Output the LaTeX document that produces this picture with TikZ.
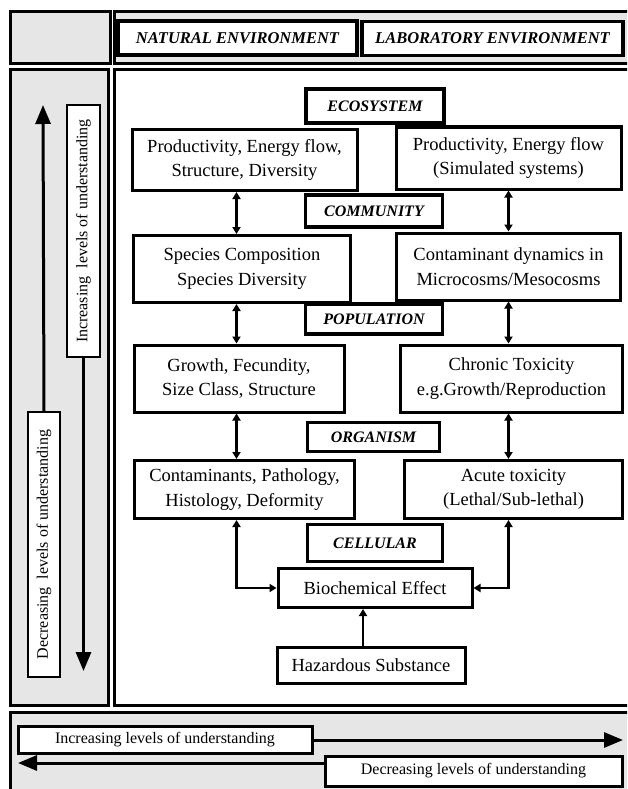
\documentclass[tikz,border=0pt]{standalone}
\usepackage{fontspec}
\setmainfont{Liberation Serif}
\usetikzlibrary{arrows.meta}
\definecolor{panelgray}{HTML}{E6E6E6}
\begin{document}
\begin{tikzpicture}[x=1pt,y=-1pt,
  panel/.style={draw=black,line width=3pt,fill=panelgray},
  whitepanel/.style={draw=black,line width=3pt,fill=white},
  envbox/.style={draw=black,line width=3.5pt,fill=white,inner sep=0pt,
    font=\fontsize{16.5}{18}\selectfont\bfseries\itshape},
  lvl/.style={draw=black,line width=3.5pt,fill=white,inner sep=0pt,
    font=\fontsize{16}{18}\selectfont\bfseries\itshape},
  box/.style={draw=black,line width=3pt,fill=white,inner sep=0pt,align=center,
    font=\fontsize{18.5}{24.5}\selectfont},
  sidebox/.style={draw=black,line width=2pt,fill=white,inner sep=0pt,
    font=\fontsize{16}{18}\selectfont},
  dbl/.style={line width=2.5pt,{Triangle[length=7pt,width=8pt]}-{Triangle[length=7pt,width=8pt]}},
  one/.style={line width=2.5pt,-{Triangle[length=7pt,width=8pt]}},
  big/.style={line width=3pt,-{Triangle[length=19pt,width=15pt]}}
]
\useasboundingbox (0,0) rectangle (627,789);
\clip (0,0) rectangle (627,789);
\fill[white] (0,0) rectangle (627,789);

% panels
\draw[panel] (10,12) rectangle (110,64);
\draw[panel] (114,12) rectangle (640,64);
\draw[panel] (10,70) rectangle (108,705);
\draw[whitepanel] (114,70) rectangle (640,705);
\draw[panel] (10,712) rectangle (640,800);

% environment headers
\node[envbox,minimum width=239pt,minimum height=34pt] (nat) at (237.5,38) {NATURAL ENVIRONMENT};
\node[envbox,minimum width=261pt,minimum height=34pt] (lab) at (492.5,38.5) {LABORATORY ENVIRONMENT};

% level labels
\node[lvl,minimum width=138pt,minimum height=34pt] (eco) at (375,106) {ECOSYSTEM};
\node[lvl,minimum width=137pt,minimum height=32pt] (com) at (374,211) {COMMUNITY};
\node[lvl,minimum width=137pt,minimum height=30pt] (pop) at (374,319) {POPULATION};
\node[lvl,minimum width=132pt,minimum height=29pt] (org) at (373.5,437) {ORGANISM};
\node[lvl,minimum width=135pt,minimum height=37pt] (cel) at (375,543) {CELLULAR};

% natural column
\node[box,minimum width=225pt,minimum height=61pt] (l1) at (244.5,160) {Productivity, Energy flow,\\Structure, Diversity};
\node[box,minimum width=217pt,minimum height=67pt] (l2) at (242,269) {Species Composition\\Species Diversity};
\node[box,minimum width=210pt,minimum height=67pt] (l3) at (239,378.5) {Growth, Fecundity,\\Size Class, Structure};
\node[box,minimum width=220pt,minimum height=58pt] (l4) at (244.5,489.5) {Contaminants, Pathology,\\Histology, Deformity};

% laboratory column
\node[box,minimum width=225pt,minimum height=62pt] (r1) at (508.5,158) {Productivity, Energy flow\\(Simulated systems)};
\node[box,minimum width=224pt,minimum height=67pt] (r2) at (508.5,266.5) {Contaminant dynamics in\\Microcosms/Mesocosms};
\node[box,minimum width=222pt,minimum height=67pt] (r3) at (511.5,378.5) {Chronic Toxicity\\e.g.Growth/Reproduction};
\node[box,minimum width=218pt,minimum height=58pt] (r4) at (513.5,489.5) {Acute toxicity\\(Lethal/Sub-lethal)};

% bottom
\node[box,minimum width=194pt,minimum height=39pt] (bio) at (375,588) {Biochemical Effect};
\node[box,minimum width=188pt,minimum height=36pt] (haz) at (371,665) {Hazardous Substance};

\coordinate (cl) at (236.5,0);
\coordinate (cr) at (508.5,0);
\coordinate (hz) at (363,0);

\draw[dbl] (l1.south -| cl) -- (l2.north -| cl);
\draw[dbl] (l2.south -| cl) -- (l3.north -| cl);
\draw[dbl] (l3.south -| cl) -- (l4.north -| cl);
\draw[dbl] (r1.south -| cr) -- (r2.north -| cr);
\draw[dbl] (r2.south -| cr) -- (r3.north -| cr);
\draw[dbl] (r3.south -| cr) -- (r4.north -| cr);
\draw[dbl] (l4.south -| cl) |- (bio.west);
\draw[dbl] (r4.south -| cr) |- (bio.east);
\draw[one] (hz |- haz.north) -- (hz |- bio.south);

% left side levels
\node[sidebox,rotate=90,minimum width=252pt,minimum height=33pt] (incv) at (83.5,231) {Increasing\ \ levels of understanding};
\node[sidebox,rotate=90,minimum width=265pt,minimum height=32pt] (decv) at (44,544.5) {Decreasing\ \ levels of understanding};
\coordinate (uptip) at (43,105);
\coordinate (downtip) at (83.5,671);
\draw[big] (decv.east) -- (uptip);
\draw[big] (incv.west) -- (downtip);

% bottom levels
\coordinate (righttip) at (623,740);
\coordinate (lefttip) at (18,763);
\node[sidebox,line width=3pt,minimum width=294pt,minimum height=27pt] (inch) at (165,740) {Increasing levels of understanding};
\node[sidebox,line width=3pt,minimum width=297pt,minimum height=30pt] (dech) at (473.5,771) {Decreasing levels of understanding};
\draw[big] (inch.east) -- (righttip);
\draw[big] (dech.west |- lefttip) -- (lefttip);
\end{tikzpicture}
\end{document}
